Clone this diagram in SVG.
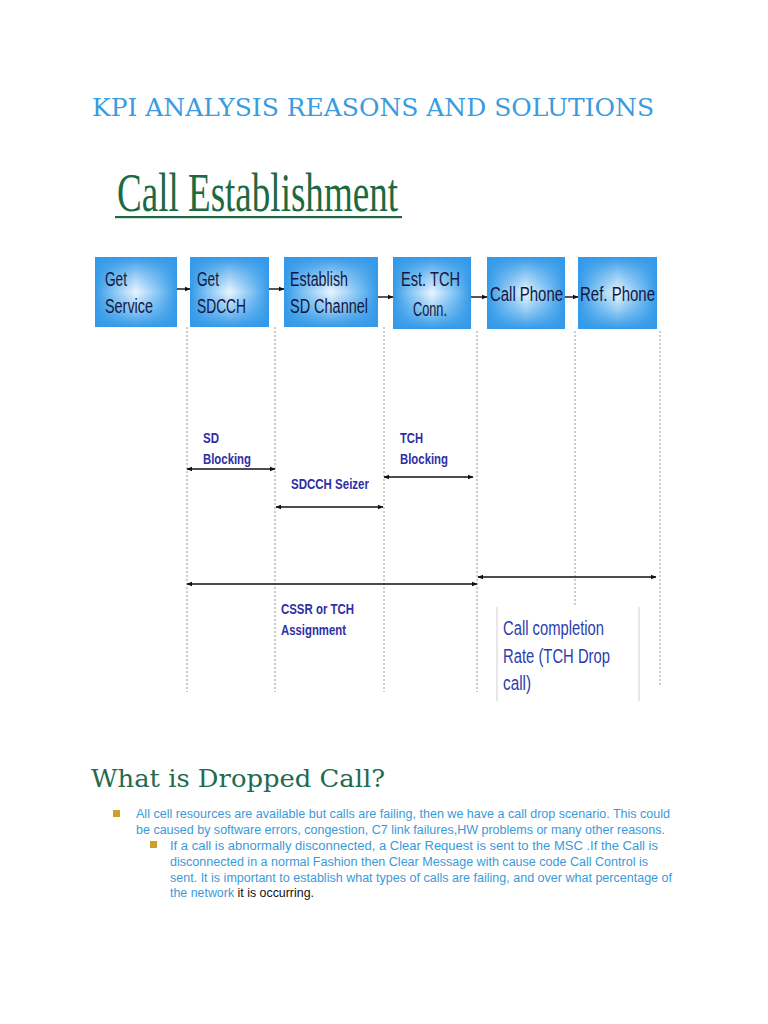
<svg xmlns="http://www.w3.org/2000/svg" width="768" height="1024" viewBox="0 0 768 1024">
<style>
.box-h{fill:url(#gh)}
.box-v{fill:url(#gv)}
.bt{font-family:"Liberation Sans Narrow","Liberation Sans",Arial,sans-serif;font-size:20px;fill:#141840}
.lbl{font-family:"Liberation Sans Narrow","Liberation Sans",Arial,sans-serif;font-size:15px;font-weight:bold;fill:#2e2fa6}
.ccr{font-family:"Liberation Sans Narrow","Liberation Sans",Arial,sans-serif;font-size:20px;fill:#2b3db0}
.dot{stroke:#9a9a9a;stroke-width:1;stroke-dasharray:2,2;fill:none}
.arr{stroke:#111;stroke-width:1.4;fill:none}
.body{font-family:"Liberation Sans",Arial,sans-serif;font-size:12.5px;fill:#3a9ad9}
.bul{fill:#c9a227}
</style>
<defs>
<linearGradient id="gh" x1="0" y1="0" x2="1" y2="0">
<stop offset="0" stop-color="#3399e8"/>
<stop offset="0.22" stop-color="#86c6f4"/>
<stop offset="0.5" stop-color="#eaf5fe"/>
<stop offset="0.78" stop-color="#86c6f4"/>
<stop offset="1" stop-color="#3399e8"/>
</linearGradient>
<linearGradient id="gv" x1="0" y1="0" x2="0" y2="1">
<stop offset="0" stop-color="#3399e8" stop-opacity="1"/>
<stop offset="0.25" stop-color="#3399e8" stop-opacity="0.45"/>
<stop offset="0.5" stop-color="#3399e8" stop-opacity="0"/>
<stop offset="0.75" stop-color="#3399e8" stop-opacity="0.45"/>
<stop offset="1" stop-color="#3399e8" stop-opacity="1"/>
</linearGradient>
<marker id="ah" viewBox="0 0 10 10" refX="9" refY="5" markerWidth="6" markerHeight="6" orient="auto-start-reverse" markerUnits="userSpaceOnUse">
<path d="M0,1 L10,5 L0,9 z" fill="#111"/>
</marker>
</defs>

<rect width="768" height="1024" fill="#ffffff"/>

<text x="92" y="116" font-family="'DejaVu Serif','Liberation Serif',serif" font-size="24" fill="#3a9be0" textLength="562" lengthAdjust="spacingAndGlyphs">KPI ANALYSIS REASONS AND SOLUTIONS</text>

<g id="title-call-establishment">
<text x="117" y="211" font-family="'Liberation Serif','DejaVu Serif',serif" font-size="54" fill="#1b6a42" textLength="281" lengthAdjust="spacingAndGlyphs">Call Establishment</text>
<rect x="115" y="216" width="287" height="2.2" fill="#1b6a42"/>
</g>

<g id="lifelines">
<line class="dot" x1="187" y1="327" x2="187" y2="692"/>
<line class="dot" x1="275" y1="327" x2="275" y2="692"/>
<line class="dot" x1="384" y1="327" x2="384" y2="692"/>
<line class="dot" x1="477" y1="331" x2="477" y2="692"/>
<line class="dot" x1="575" y1="331" x2="575" y2="607"/>
<line class="dot" x1="660" y1="331" x2="660" y2="686"/>
<line x1="497" y1="607" x2="497" y2="701" stroke="#cfcfcf" stroke-width="1"/>
<line x1="639" y1="607" x2="639" y2="701" stroke="#cfcfcf" stroke-width="1"/>
</g>

<g id="n1">
<rect x="95" y="257" width="82" height="70" class="box-h"/>
<rect x="95" y="257" width="82" height="70" class="box-v"/>
<text class="bt" x="105" y="286" textLength="22" lengthAdjust="spacingAndGlyphs">Get</text>
<text class="bt" x="105" y="313" textLength="48" lengthAdjust="spacingAndGlyphs">Service</text>
</g>
<g id="n2">
<rect x="190" y="257" width="79" height="70" class="box-h"/>
<rect x="190" y="257" width="79" height="70" class="box-v"/>
<text class="bt" x="197" y="286" textLength="22" lengthAdjust="spacingAndGlyphs">Get</text>
<text class="bt" x="197" y="313" textLength="49" lengthAdjust="spacingAndGlyphs">SDCCH</text>
</g>
<g id="n3">
<rect x="284" y="257" width="94" height="70" class="box-h"/>
<rect x="284" y="257" width="94" height="70" class="box-v"/>
<text class="bt" x="290" y="286" textLength="58" lengthAdjust="spacingAndGlyphs">Establish</text>
<text class="bt" x="290" y="313" textLength="78" lengthAdjust="spacingAndGlyphs">SD Channel</text>
</g>
<g id="n4">
<rect x="393" y="257" width="78" height="72" class="box-h"/>
<rect x="393" y="257" width="78" height="72" class="box-v"/>
<text class="bt" x="401" y="286" textLength="59" lengthAdjust="spacingAndGlyphs">Est. TCH</text>
<text class="bt" x="413" y="316" textLength="34" lengthAdjust="spacingAndGlyphs">Conn.</text>
</g>
<g id="n5">
<rect x="487" y="257" width="78" height="72" class="box-h"/>
<rect x="487" y="257" width="78" height="72" class="box-v"/>
<text class="bt" x="490" y="301" textLength="73" lengthAdjust="spacingAndGlyphs">Call Phone</text>
</g>
<g id="n6">
<rect x="578" y="257" width="79" height="72" class="box-h"/>
<rect x="578" y="257" width="79" height="72" class="box-v"/>
<text class="bt" x="580" y="301" textLength="75" lengthAdjust="spacingAndGlyphs">Ref. Phone</text>
</g>

<g id="connectors">
<line class="arr" x1="177" y1="289" x2="190" y2="289" marker-end="url(#ah)"/>
<line class="arr" x1="269" y1="289" x2="284" y2="289" marker-end="url(#ah)"/>
<line class="arr" x1="378" y1="297" x2="393" y2="297" marker-end="url(#ah)"/>
<line class="arr" x1="471" y1="297" x2="487" y2="297" marker-end="url(#ah)"/>
<line class="arr" x1="565" y1="297" x2="578" y2="297" marker-end="url(#ah)"/>

<line class="arr" x1="187" y1="469" x2="275" y2="469" marker-start="url(#ah)" marker-end="url(#ah)"/>
<line class="arr" x1="384" y1="477" x2="473" y2="477" marker-start="url(#ah)" marker-end="url(#ah)"/>
<line class="arr" x1="276" y1="507" x2="383" y2="507" marker-start="url(#ah)" marker-end="url(#ah)"/>
<line class="arr" x1="187" y1="584" x2="477" y2="584" marker-start="url(#ah)" marker-end="url(#ah)"/>
<line class="arr" x1="478" y1="577" x2="656" y2="577" marker-start="url(#ah)" marker-end="url(#ah)"/>
</g>

<g id="labels">
<text class="lbl" x="203" y="443" textLength="16" lengthAdjust="spacingAndGlyphs">SD</text>
<text class="lbl" x="203" y="464" textLength="48" lengthAdjust="spacingAndGlyphs">Blocking</text>
<text class="lbl" x="400" y="443" textLength="23" lengthAdjust="spacingAndGlyphs">TCH</text>
<text class="lbl" x="400" y="464" textLength="48" lengthAdjust="spacingAndGlyphs">Blocking</text>
<text class="lbl" x="291" y="489" textLength="78" lengthAdjust="spacingAndGlyphs">SDCCH Seizer</text>
<text class="lbl" x="281" y="614" textLength="73" lengthAdjust="spacingAndGlyphs">CSSR or TCH</text>
<text class="lbl" x="281" y="635" textLength="65" lengthAdjust="spacingAndGlyphs">Assignment</text>
<text class="ccr" x="503" y="635" textLength="101" lengthAdjust="spacingAndGlyphs">Call completion</text>
<text class="ccr" x="503" y="663" textLength="107" lengthAdjust="spacingAndGlyphs">Rate (TCH Drop</text>
<text class="ccr" x="503" y="690" textLength="28" lengthAdjust="spacingAndGlyphs">call)</text>
</g>

<text x="91" y="787" font-family="'DejaVu Serif','Liberation Serif',serif" font-size="24.5" fill="#236a4e" textLength="294" lengthAdjust="spacingAndGlyphs">What is Dropped Call?</text>

<g id="bullets">
<rect class="bul" x="113" y="810" width="7" height="7"/>
<text class="body" x="136" y="818" textLength="534" lengthAdjust="spacingAndGlyphs">All cell resources are available but calls are failing, then we have a call drop scenario. This could</text>
<text class="body" x="136" y="834" textLength="529" lengthAdjust="spacingAndGlyphs">be caused by software errors, congestion, C7 link failures,HW problems or many other reasons.</text>
<rect class="bul" x="150" y="841" width="7" height="7"/>
<text class="body" x="170" y="850" textLength="488" lengthAdjust="spacingAndGlyphs">If a call is abnormally disconnected, a Clear Request is sent to the MSC .If the Call is</text>
<text class="body" x="170" y="866" textLength="478" lengthAdjust="spacingAndGlyphs">disconnected in a normal Fashion then Clear Message with cause code Call Control is</text>
<text class="body" x="170" y="882" textLength="502" lengthAdjust="spacingAndGlyphs">sent. It is important to establish what types of calls are failing, and over what percentage of</text>
<text class="body" x="170" y="897" textLength="144" lengthAdjust="spacingAndGlyphs">the network <tspan fill="#111111">it is occurring.</tspan></text>
</g>
</svg>
